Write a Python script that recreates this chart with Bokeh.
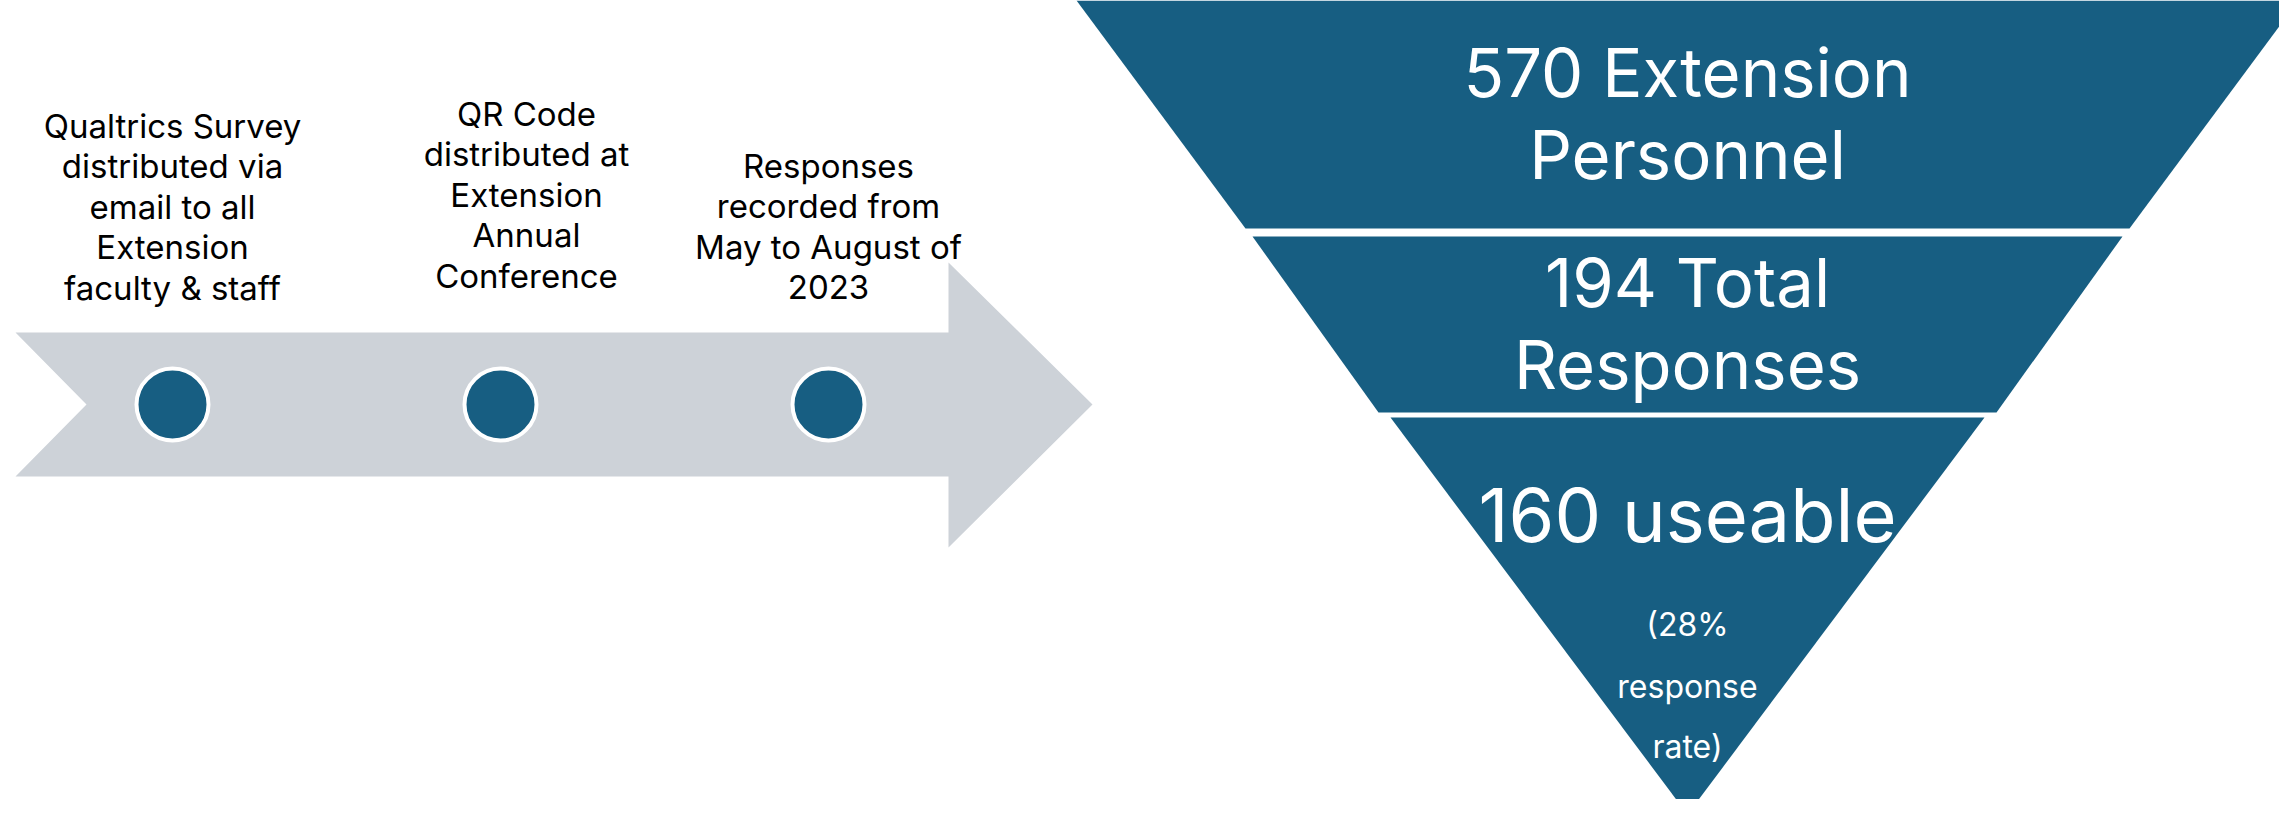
from bokeh.plotting import figure
from bokeh.models import Range1d
from bokeh.core.properties import value
from bokeh.embed import file_html
from bokeh.resources import INLINE

# ---------------- data ----------------
step_labels = [
    ["Qualtrics Survey", "distributed via", "email to all", "Extension", "faculty & staff"],
    ["QR Code", "distributed at", "Extension", "Annual", "Conference"],
    ["Responses", "recorded from", "May to August of", "2023"],
]
funnel_counts = [570, 194, 160]
funnel_words = [["Extension", "Personnel"], ["Total", "Responses"], ["useable"]]
rate_note = ["(28%", "response", "rate)"]

BLUE = "#175E82"
GRAY = "#CDD2D8"
FONT = "Inter"

# ---------------- layout (reference pixel space, 1:1) ----------------
W, H = 2279, 799
p = figure(width=W, height=H, x_range=Range1d(0, W), y_range=Range1d(H, 0),
           output_backend="svg", toolbar_location=None, min_border=0)
p.axis.visible = False
p.grid.visible = False
p.outline_line_color = None
p.background_fill_color = "white"
p.border_fill_color = "white"

# timeline arrow
body_top, body_bot, mid_y = 332, 476, 404
left_x, notch_x, head_x, tip_x = 15, 86, 948, 1092
head_top, head_bot = 262, 547
p.patch([left_x, head_x, head_x, tip_x, head_x, head_x, left_x, notch_x],
        [body_top, body_top, head_top, mid_y, head_bot, body_bot, body_bot, mid_y],
        fill_color=GRAY, line_color=None)

# milestone dots
dot_x = [172, 500, 828]
p.circle(dot_x, [mid_y] * 3, radius=36, fill_color=BLUE, line_color="white", line_width=4)

# milestone labels (y = vertical centre of each line)
label_cx = [172, 526, 828]
label_first = [125, 113, 165]
gap = 40.5
xs, ys, ts = [], [], []
for cx, y0, lines in zip(label_cx, label_first, step_labels):
    for i, t in enumerate(lines):
        xs.append(cx); ys.append(y0 + i * gap); ts.append(t)
p.text(x=xs, y=ys, text=ts, text_align="center", text_baseline="alphabetic",
       text_font=value(FONT), text_font_size=value("33px"), text_color="black")

# funnel bands (symmetric about fcx)
fcx, tip_y = 1687, 814
bands = [
    [(1076, 0), (1245, 228)],
    [(1252, 236), (1378, 412)],
    [(1390, 417), (fcx, tip_y)],
]
for (lx0, y0), (lx1, y1) in bands:
    p.patch([lx0, 2 * fcx - lx0, 2 * fcx - lx1, lx1], [y0, y0, y1, y1],
            fill_color=BLUE, line_color=None)

# funnel texts
top_lines = [f"{funnel_counts[0]} {funnel_words[0][0]}", funnel_words[0][1],
             f"{funnel_counts[1]} {funnel_words[1][0]}", funnel_words[1][1]]
top_y = [72, 154, 282, 364]
p.text(x=[fcx] * len(top_lines), y=top_y, text=top_lines, text_align="center",
       text_baseline="alphabetic", text_font=value(FONT), text_font_size=value("67px"),
       text_color="white")

p.text(x=[fcx], y=[514], text=[f"{funnel_counts[2]} {funnel_words[2][0]}"], text_align="center",
       text_baseline="alphabetic", text_font=value(FONT), text_font_size=value("74px"),
       text_color="white")

small_y = [624, 686, 746]
p.text(x=[fcx] * 3, y=small_y, text=rate_note, text_align="center",
       text_baseline="alphabetic", text_font=value(FONT), text_font_size=value("32px"),
       text_color="white")

open("out.html", "w").write(file_html(p, INLINE))
